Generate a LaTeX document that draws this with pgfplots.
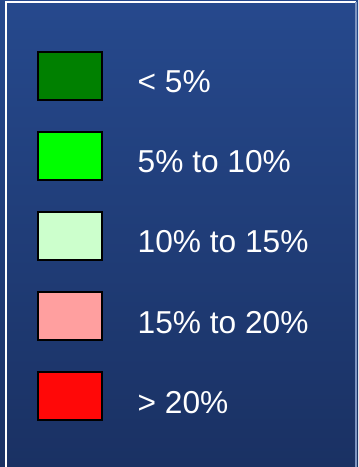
\documentclass[border=0pt]{standalone}
\usepackage{pgfplots}
\pgfplotsset{compat=1.18}
\usepackage{fontspec}
\setmainfont{Liberation Sans}
\definecolor{bgtop}{HTML}{26498D}
\definecolor{bgbot}{HTML}{1A3163}
\definecolor{c1}{HTML}{008000}
\definecolor{c2}{HTML}{00FF00}
\definecolor{c3}{HTML}{CCFFCC}
\definecolor{c4}{HTML}{FF9F9F}
\definecolor{c5}{HTML}{FF0808}
\definecolor{rframe}{HTML}{7F95C0}
\begin{document}
\begin{tikzpicture}[x=1bp,y=1bp]
\useasboundingbox (0,0) rectangle (358,467);
\begin{axis}[
  at={(0,0)}, anchor=south west,
  width=358bp, height=467bp, scale only axis,
  xmin=0, xmax=358, ymin=0, ymax=467, y dir=reverse,
  axis lines=none, clip=false,
]
\fill[top color=bgtop, bottom color=bgbot] (axis cs:0,0) rectangle (axis cs:358,467);
\draw[white, line width=1.6bp] (axis cs:5.8,467) -- (axis cs:5.8,2.2) -- (axis cs:355.5,2.2);
\draw[rframe, line width=1.4bp] (axis cs:355.8,2.2) -- (axis cs:355.8,467);
\addplot[fill=c1, draw=black, line width=2bp] coordinates {(38,52) (102,52) (102,100) (38,100)} -- cycle;
\addplot[fill=c2, draw=black, line width=2bp] coordinates {(38,132) (102,132) (102,180) (38,180)} -- cycle;
\addplot[fill=c3, draw=black, line width=2bp] coordinates {(38,212) (102,212) (102,260) (38,260)} -- cycle;
\addplot[fill=c4, draw=black, line width=2bp] coordinates {(38,292) (102,292) (102,340) (38,340)} -- cycle;
\addplot[fill=c5, draw=black, line width=2bp] coordinates {(38,372) (102,372) (102,420) (38,420)} -- cycle;
\begin{scope}[every node/.style={anchor=base west, inner sep=0pt, text=white, font=\fontsize{31.8}{36}\selectfont}]
\node at (axis cs:137.5,93) {< 5\%};
\node at (axis cs:137.5,173) {5\% to 10\%};
\node at (axis cs:137.5,253) {10\% to 15\%};
\node at (axis cs:137.5,333) {15\% to 20\%};
\node at (axis cs:137.5,413) {> 20\%};
\end{scope}
\end{axis}
\end{tikzpicture}
\end{document}
